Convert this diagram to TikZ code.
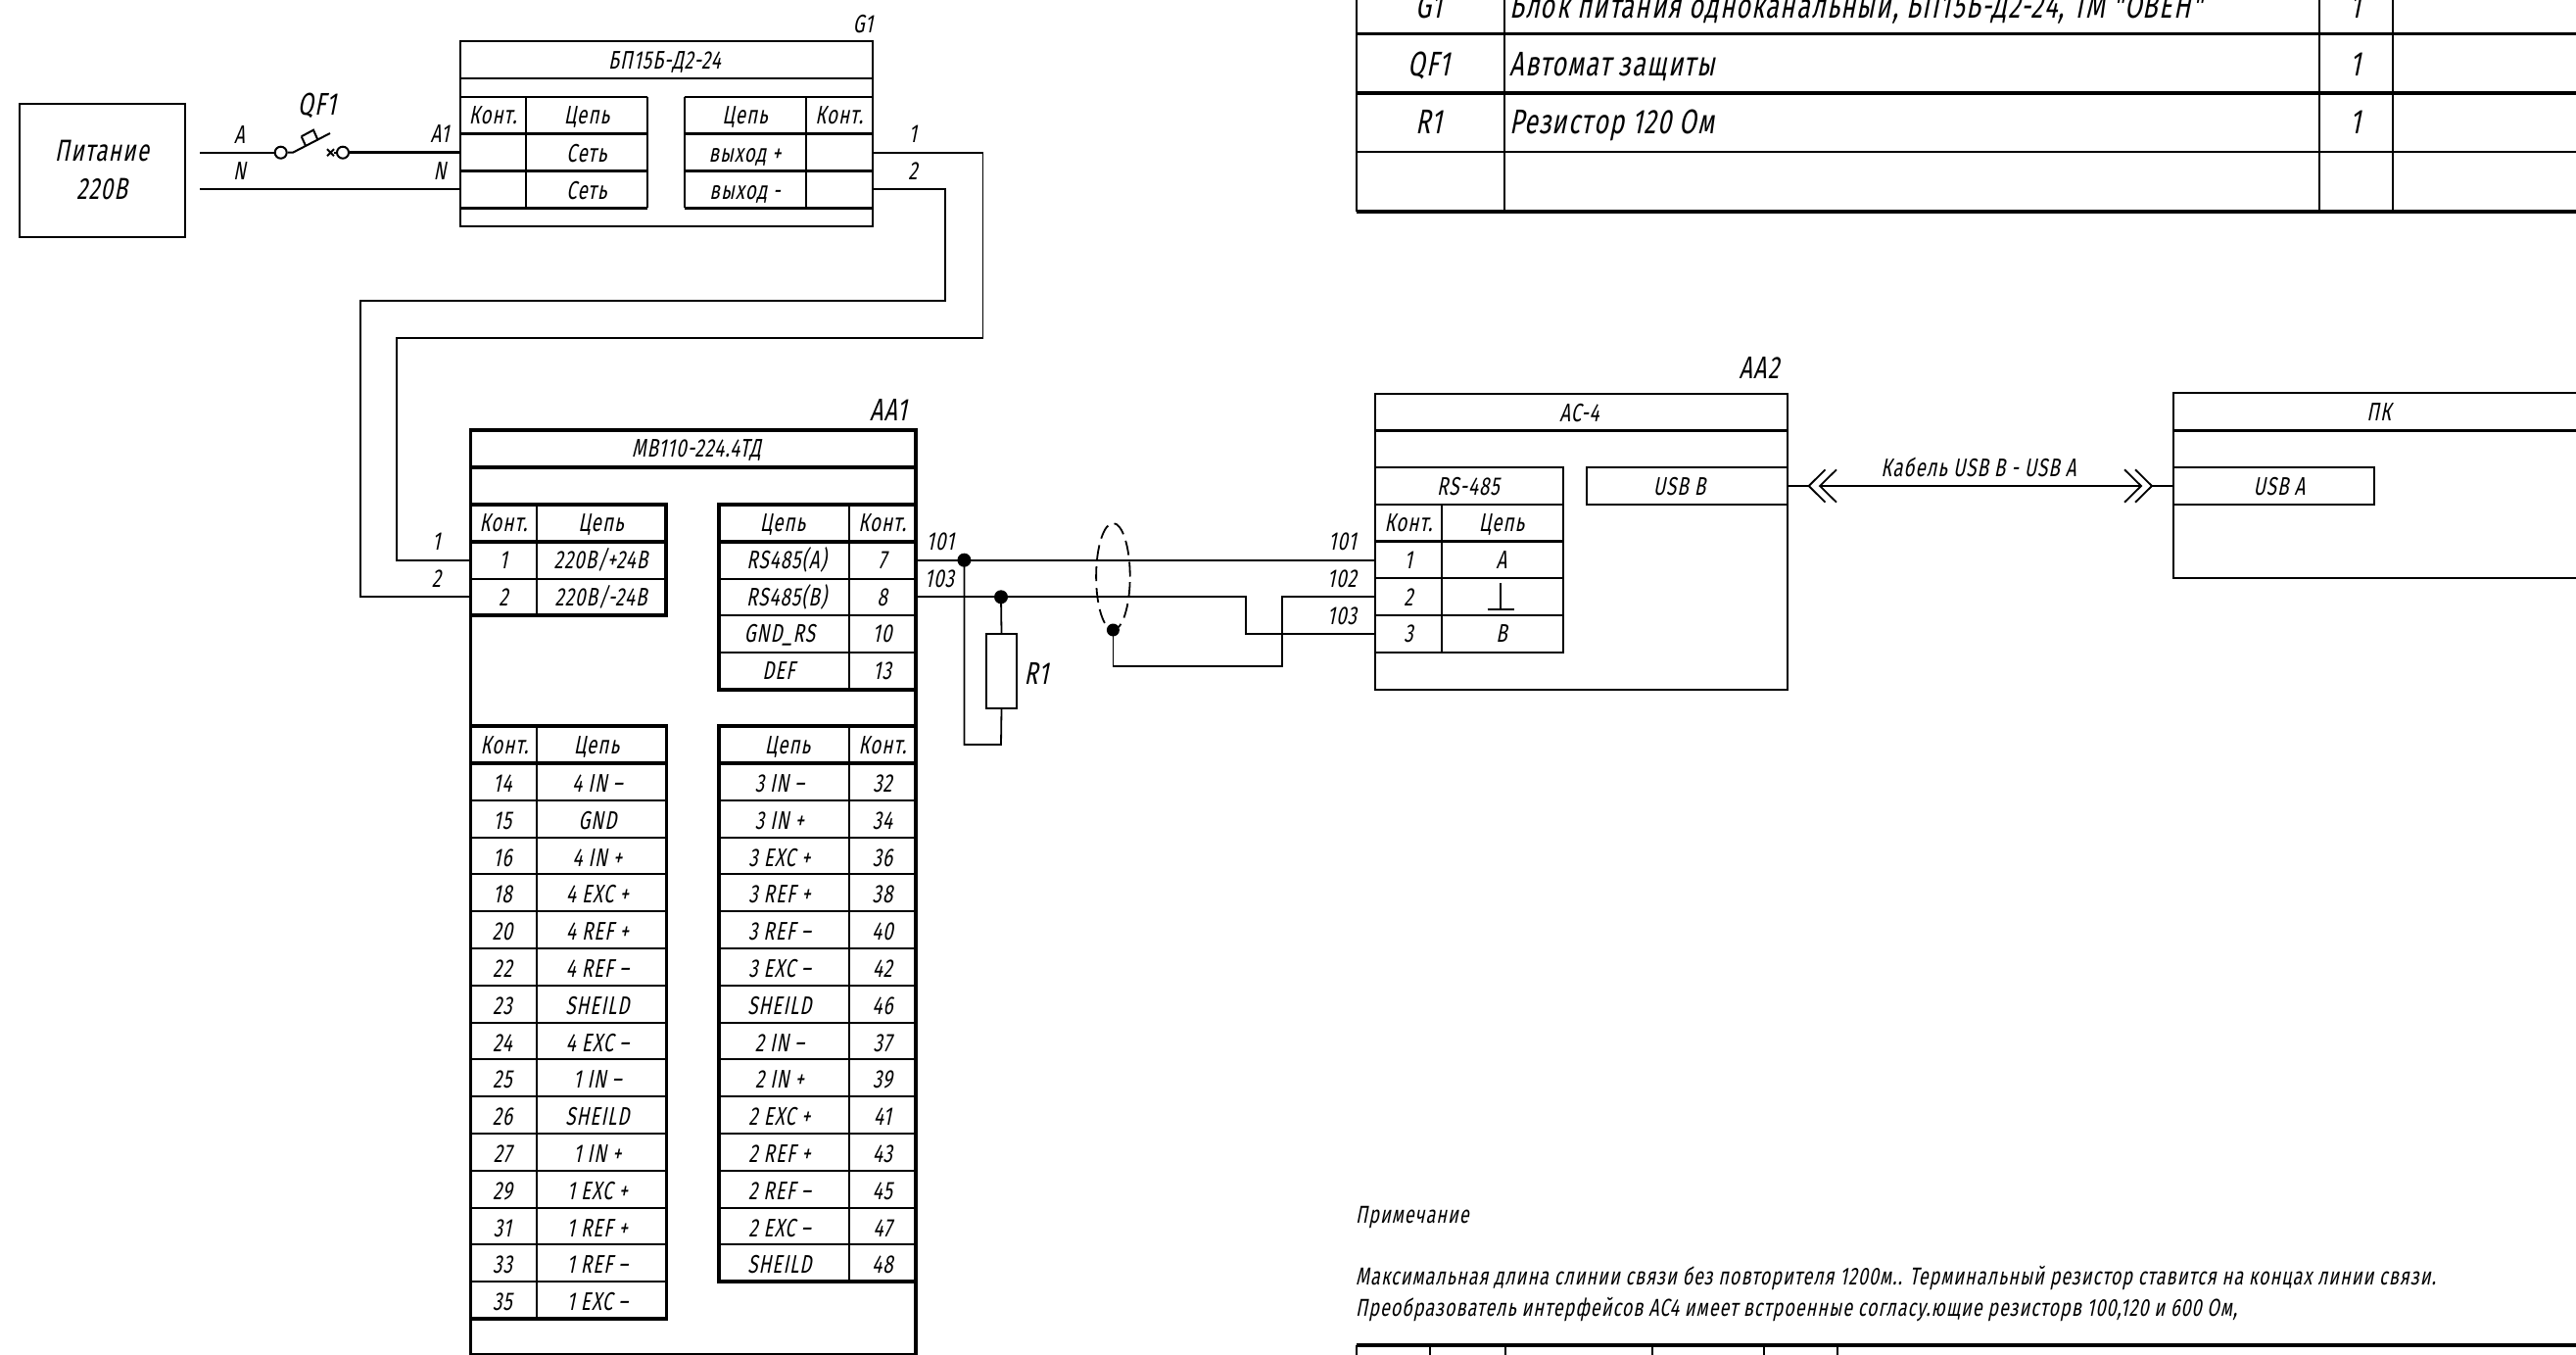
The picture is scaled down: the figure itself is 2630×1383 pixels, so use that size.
\documentclass[tikz,border=0pt]{standalone}
\usepackage{fontspec}
\setmainfont{Liberation Sans}
\newfontfamily\gostfont{Fira Sans}[FakeSlant=0.2,FakeStretch=0.72,LetterSpace=4]
\usetikzlibrary{calc}
\tikzset{
  wire/.style={line width=1.8pt,line join=miter},
  wirethick/.style={line width=3pt},
  thinb/.style={line width=2pt},
  heavyb/.style={line width=3.6pt},
  midb/.style={line width=2.6pt},
  tS/.style={inner sep=0pt,font=\gostfont\fontsize{26}{26}\selectfont,text height=17.9pt,text depth=0pt},
  tM/.style={inner sep=0pt,font=\gostfont\fontsize{32}{32}\selectfont,text height=22pt,text depth=0pt},
  tL/.style={inner sep=0pt,font=\gostfont\fontsize{31}{31}\selectfont,text height=21.4pt,text depth=0pt},
  tT/.style={inner sep=0pt,font=\gostfont\fontsize{35}{35}\selectfont,text height=24.1pt,text depth=0pt},
  tN/.style={inner sep=0pt,font=\gostfont\fontsize{25}{25}\selectfont,text height=17.2pt,text depth=0pt,anchor=west},
  dotj/.style={circle,fill=black,inner sep=0pt,minimum size=14pt},
  termc/.style={circle,draw,thinb,fill=white,inner sep=0pt,minimum size=12pt},
  boxb/.style={draw,inner sep=0pt,outer sep=0pt,anchor=north west}
}
\begin{document}
\begin{tikzpicture}[x=1pt,y=-1pt]
\useasboundingbox (0,0) rectangle (2630,1383);
\fill[white] (0,0) rectangle (2630,1383);

% ---------- power source
\node[boxb,thinb,minimum width=169.5pt,minimum height=136.6pt] (power) at (19.5,105.7) {};
\node[tL,align=center] (powert1) at (104,154) {Питание};
\node[tL] (powert2) at (104,193) {220В};

% ---------- wires A and N
\coordinate (aStart) at (204,155.7);
\coordinate (nStart) at (204,193.3);
\node[termc] (sw1) at (286.7,155.7) {};
\node[termc] (sw2) at (350,155.7) {};
\coordinate (bladeA) at (299,155.7);
\coordinate (bladeB) at (337,136);
\draw[thinb] (sw1.east) -- (bladeA) -- (bladeB);
\draw[thinb] (307.7,139.3) -- (320,132.7) -- (324.7,143.3);
\draw[thinb] (307.7,139.3) -- (312.3,149.3);
\draw[thinb] (334,152.2) -- (341,159.2) (334,159.2) -- (341,152.2);
\draw[thinb] (341,155.7) -- (sw2.west);
\node[tM] (qf1) at (323.5,107) {QF1};
\node[tS] (la) at (244.5,138) {A};
\node[tS] (ln) at (244.5,175) {N};
\node[tS] (la1) at (449,137) {A1};
\node[tS] (ln2) at (449,175) {N};

% ---------- G1
\node[boxb,thinb,minimum width=421.5pt,minimum height=188.5pt] (g1) at (469.5,42.5) {};
\draw[midb] (469.5,80) -- (891,80);
\node[tS] (g1lab) at (881,25) {G1};
\node[tS] (g1title) at (678.5,62) {БП15Б-Д2-24};
\draw[wire] (aStart) -- (sw1.west);
\draw[wirethick] (sw2.east) -- (g1.west |- sw2);
\draw[wire] (nStart) -- (g1.west |- nStart);
\foreach \ya/\wd in {99/2.6,136.7/2.6,174.7/2.6,212.3/2.6}{
  \draw[line width=\wd pt] (469.5,\ya) -- (661,\ya);
  \draw[line width=\wd pt] (698.6,\ya) -- (891,\ya);
}
\draw[thinb] (537,99) -- (537,212.3) (661,99) -- (661,212.3);
\draw[thinb] (698.6,99) -- (698.6,212.3) (822.5,99) -- (822.5,212.3);
\node[tS] (g1lk) at (503.2,118) {Конт.};
\node[tS] (g1lc) at (599,118) {Цепь};
\node[tS] (g1l1) at (599,157) {Сеть};
\node[tS] (g1l2) at (599,195) {Сеть};
\node[tS] (g1rc) at (760.5,118) {Цепь};
\node[tS] (g1rk) at (856.7,118) {Конт.};
\node[tS] (g1r1) at (760.5,157) {выход +};
\node[tS] (g1r2) at (760.5,195) {выход -};
\node[tS] (o1) at (932,137) {1};
\node[tS] (o2) at (932,175) {2};

% ---------- AA1
\node[boxb,heavyb,minimum width=454.7pt,minimum height=943.5pt] (aa1) at (480.3,439) {};
\draw[heavyb] (480.3,477) -- (935,477);
\node[tM] (aa1lab) at (907,418) {AA1};
\node[tS] (aa1title) at (711,458) {МВ110-224.4ТД};

% G1 -> AA1 wires
\coordinate (w1out) at (891,155.7);
\coordinate (w2out) at (891,193.3);
\coordinate (w1in) at (480.3,571.7);
\coordinate (w2in) at (480.3,609.3);
\draw[wire] (w1out) -- (1003.4,155.7) -- (1003.4,344.7) -- (405,344.7) -- (405,571.7) -- (w1in);
\draw[wire] (w2out) -- (965,193.3) -- (965,306.7) -- (367.7,306.7) -- (367.7,609.3) -- (w2in);
\node[tS] (in1) at (445.5,553) {1};
\node[tS] (in2) at (445.5,591) {2};

% upper-left table
\draw[heavyb] (480.3,515) rectangle (680,628);
\draw[heavyb] (480.3,553) -- (680,553);
\draw[thinb] (480.3,591) -- (680,591);
\draw[thinb] (548,515) -- (548,628);
\node[tS] (ulk) at (514,534) {Конт.};
\node[tS] (ulc) at (613.5,534) {Цепь};
\node[tS] (ul1) at (514,572) {1};
\node[tS] (ul1c) at (613.5,572) {220В/+24В};
\node[tS] (ul2) at (514,610) {2};
\node[tS] (ul2c) at (613.5,610) {220В/-24В};

% upper-right table
\draw[heavyb] (734,515) rectangle (935,704);
\draw[heavyb] (734,553) -- (935,553);
\draw[thinb] (734,591) -- (935,591) (734,628) -- (935,628) (734,666) -- (935,666);
\draw[thinb] (866.5,515) -- (866.5,704);
\node[tS] (urc) at (799,534) {Цепь};
\node[tS] (urk) at (900.7,534) {Конт.};
\foreach \c/\k/\y/\xx [count=\i] in {RS485(A)/7/572/803,RS485(B)/8/610/803,GND\_RS/10/647/796,DEF/13/685/795}{
  \node[tS] (urc\i) at (\xx,\y) {\c};
  \node[tS] (urk\i) at (900.7,\y) {\k};
}

% lower-left table
\draw[heavyb] (480.3,741) rectangle (680.5,1346);
\draw[heavyb] (480.3,779) -- (680.5,779);
\draw[thinb] (548,741) -- (548,1346);
\node[tS] (llk) at (515,761) {Конт.};
\node[tS] (llc) at (609,761) {Цепь};
\foreach \k/\c [count=\i] in {14/4 IN –,15/GND,16/4 IN +,18/4 EXC +,20/4 REF +,22/4 REF –,23/SHEILD,24/4 EXC –,25/1 IN –,26/SHEILD,27/1 IN +,29/1 EXC +,31/1 REF +,33/1 REF –,35/1 EXC –}{
  \pgfmathsetmacro{\yy}{779+37.8*(\i-1)+20.5}
  \node[tS] (llk\i) at (513,\yy) {\k};
  \node[tS] (llc\i) at (610,\yy) {\c};
  \ifnum\i>1 \pgfmathsetmacro{\yl}{779+37.8*(\i-1)}\draw[thinb] (480.3,\yl) -- (680.5,\yl);\fi
}

% lower-right table
\draw[heavyb] (734,741) rectangle (935,1308);
\draw[heavyb] (734,779) -- (935,779);
\draw[thinb] (866.5,741) -- (866.5,1308);
\node[tS] (lrc) at (804,761) {Цепь};
\node[tS] (lrk) at (901,761) {Конт.};
\foreach \c/\k [count=\i] in {3 IN –/32,3 IN +/34,3 EXC +/36,3 REF +/38,3 REF –/40,3 EXC –/42,SHEILD/46,2 IN –/37,2 IN +/39,2 EXC +/41,2 REF +/43,2 REF –/45,2 EXC –/47,SHEILD/48}{
  \pgfmathsetmacro{\yy}{779+37.8*(\i-1)+20.5}
  \node[tS] (lrc\i) at (796,\yy) {\c};
  \node[tS] (lrk\i) at (901,\yy) {\k};
  \ifnum\i>1 \pgfmathsetmacro{\yl}{779+37.8*(\i-1)}\draw[thinb] (734,\yl) -- (935,\yl);\fi
}

% ---------- AA2
\node[boxb,thinb,minimum width=420.9pt,minimum height=302pt] (aa2) at (1403.8,401.7) {};
\draw[midb] (1403.8,439.3) -- (1824.7,439.3);
\node[tM] (aa2lab) at (1796,375) {AA2};
\node[tS] (aa2title) at (1612.5,422) {АС-4};
\draw[thinb] (1403.8,477) rectangle (1595.6,665.7);
\draw[thinb] (1403.8,515) -- (1595.6,515);
\draw[midb] (1403.8,552.7) -- (1595.6,552.7);
\draw[thinb] (1403.8,590) -- (1595.6,590) (1403.8,628) -- (1595.6,628);
\draw[thinb] (1471.6,515) -- (1471.6,665.7);
\node[tS] (rs485) at (1499,497) {RS-485};
\node[tS] (aa2k) at (1438,534) {Конт.};
\node[tS] (aa2c) at (1533,534) {Цепь};
\node[tS] (aa2k1) at (1438,572) {1};
\node[tS] (aa2k2) at (1438,610) {2};
\node[tS] (aa2k3) at (1438,647) {3};
\node[tS] (aa2cA) at (1533,572) {A};
\node[tS] (aa2cB) at (1533,647) {B};
\draw[thinb] (1532,595) -- (1532,621.7) (1518.6,621.7) -- (1546,621.7);
\node[boxb,thinb,minimum width=205.1pt,minimum height=38pt] (usbb) at (1619.6,477) {};
\node[tS] (usbbt) at (1714.5,497) {USB B};

% ---------- PC
\draw[thinb] (2640,401.3) -- (2219,401.3) -- (2219,590) -- (2640,590);
\coordinate (pcw) at (2219,496);
\draw[midb] (2219,439.3) -- (2640,439.3);
\node[tS] (pct) at (2428.7,420.7) {ПК};
\node[boxb,thinb,minimum width=205.3pt,minimum height=38pt] (usba) at (2219,477) {};
\node[tS] (usbat) at (2327,497) {USB A};

% ---------- USB cable
\coordinate (chevLo) at (1846.7,496);
\coordinate (chevLi) at (1858,496);
\coordinate (chevRi) at (2186,496);
\coordinate (chevRo) at (2197,496);
\draw[wire] (usbb.east) -- (chevLo);
\draw[wire] (chevLi) -- (chevRi);
\draw[wire] (chevRo) -- (pcw);
\draw[wire] (1863.5,479.3) -- (chevLo) -- (1863.5,512.7);
\draw[wire] (1875,479.3) -- (chevLi) -- (1875,512.7);
\draw[wire] (2169,479.3) -- (chevRi) -- (2169,512.7);
\draw[wire] (2180,479.3) -- (chevRo) -- (2180,512.7);
\node[tS] (cablet) at (2020,477.5) {Кабель USB B - USB A};

% ---------- RS-485 wires
\node[dotj] (j1) at (984.4,571.7) {};
\node[dotj] (j2) at (1022,609.3) {};
\node[dotj,minimum size=13pt] (j3) at (1136.4,643) {};
\coordinate (pinA) at (1403.8,571.7);
\coordinate (pinGnd) at (1403.8,609.3);
\coordinate (pinB) at (1403.8,647);
\coordinate (outA) at (935,571.7);
\coordinate (outB) at (935,609.3);
\draw[wire] (outA) -- (pinA);
\draw[wire] (outB) -- (1272,609.3) -- (1272,647) -- (pinB);
\draw[wire] (pinGnd) -- (1309,609.3) -- (1309,680.3) -- (1136.4,680.3) -- (j3.center);
\draw[line width=1.8pt,dash pattern=on 15pt off 7pt] (j3.center) ++(0,-54.5) ellipse (17.3pt and 54.5pt);
\node[tS] (t101) at (960,553) {101};
\node[tS] (t103) at (959,591) {103};
\node[tS] (r101) at (1370.6,553) {101};
\node[tS] (r102) at (1370,591) {102};
\node[tS] (r103) at (1370,629) {103};

% resistor
\node[boxb,thinb,minimum width=31pt,minimum height=75.7pt] (r1) at (1007,647) {};
\node[tM] (r1lab) at (1058,687) {R1};
\draw[wire] (j2.center) -- (r1.north);
\draw[wire] (r1.south) -- (1022,760) -- (984.4,760) -- (j1.center);

% ---------- spec table top right
\foreach \y/\w in {34.3/2.8,95/3.6,155/2.8,216/3.6}{
  \draw[line width=\w pt] (1385,\y) -- (2640,\y);
}
\draw[thinb] (1385,-5) -- (1385,216) (1535.8,-5) -- (1535.8,216) (2367.6,-5) -- (2367.6,216) (2443,-5) -- (2443,216);
\node[tT] (sG) at (1459,6) {G1};
\node[tT,anchor=west] (sGt) at (1541,6) {Блок питания одноканальный, БП15Б-Д2-24, ТМ "ОВЕН"};
\node[tT] (sGn) at (2405,6) {1};
\node[tT] (sQ) at (1459,65) {QF1};
\node[tT,anchor=west] (sQt) at (1541,65) {Автомат защиты};
\node[tT] (sQn) at (2405,65) {1};
\node[tT] (sR) at (1459,124) {R1};
\node[tT,anchor=west] (sRt) at (1541,124) {Резистор 120 Ом};
\node[tT] (sRn) at (2405,124) {1};

% ---------- note
\node[tN] (n0) at (1384,1240) {Примечание};
\node[tN] (n1) at (1384,1303) {Максимальная длина слинии связи без повторителя 1200м.. Терминальный резистор ставится на концах линии связи.};
\node[tN] (n2) at (1384,1335) {Преобразователь интерфейсов АС4 имеет встроенные согласу.ющие резисторв 100,120 и 600 Ом,};

% ---------- bottom table
\draw[line width=3.6pt] (1385,1373) -- (2640,1373);
\foreach \x in {1385,1460.4,1536.6,1687,1800.6,1876}{
  \draw[thinb] (\x,1373) -- (\x,1390);
}
\end{tikzpicture}
\end{document}
